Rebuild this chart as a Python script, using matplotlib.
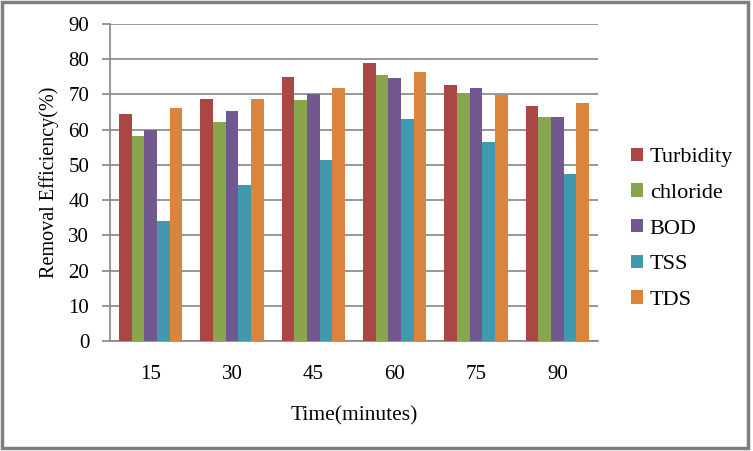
import numpy as np
import matplotlib.pyplot as plt
from matplotlib.patches import Rectangle

times = ['15', '30', '45', '60', '75', '90']
turbidity = [64.5, 68.8, 75.0, 79.0, 72.8, 66.8]
chloride = [58.3, 62.3, 68.4, 75.6, 70.5, 63.7]
bod = [59.9, 65.4, 70.2, 74.7, 71.9, 63.7]
tss = [34.2, 44.4, 51.5, 63.1, 56.6, 47.5]
tds = [66.2, 68.8, 71.9, 76.4, 69.9, 67.6]

series = [('Turbidity', turbidity, '#AA4643'),
          ('chloride', chloride, '#89A54E'),
          ('BOD', bod, '#71588F'),
          ('TSS', tss, '#4198AF'),
          ('TDS', tds, '#DB843D')]

plt.rcParams['font.family'] = ['Liberation Serif', 'DejaVu Serif']

fig = plt.figure(figsize=(7.53, 4.51), dpi=100)
ax = fig.add_axes([110 / 753, 1 - 341 / 451, (598 - 110) / 753, (341 - 24) / 451])

x = np.arange(len(times))
w = 0.155
for i, (name, vals, col) in enumerate(series):
    ax.bar(x + (i - 2) * w, vals, w, color=col, label=name, zorder=3)

ax.set_xlim(-0.5, len(times) - 0.5)
ax.set_ylim(0, 90)
ax.set_yticks(range(0, 91, 10))
ax.set_xticks(x)
ax.set_xticklabels(times)
ax.grid(axis='y', color='#868686', linewidth=1.2, zorder=0)
for s in ['top', 'right']:
    ax.spines[s].set_visible(False)
for s in ['left', 'bottom']:
    ax.spines[s].set_color('#868686')
    ax.spines[s].set_linewidth(1.2)
ax.tick_params(axis='y', length=6, color='#868686', width=1.2, labelsize=15, pad=9)
ax.tick_params(axis='x', length=0, labelsize=15, pad=17)

ax.set_xlabel('Time(minutes)', fontsize=15.5, labelpad=16)
ax.set_ylabel('Removal Efficiency(%)', fontsize=14.5, labelpad=7)

leg = ax.legend(loc='upper left', bbox_to_anchor=(622 / 753, 1 - 139 / 451),
                bbox_transform=fig.transFigure, frameon=False, fontsize=16,
                handlelength=0.55, handleheight=0.55, handletextpad=0.3,
                labelspacing=0.72, borderaxespad=0)

fig.patches.append(Rectangle((0.002, 0.006), 0.991, 0.99, transform=fig.transFigure,
                             fill=False, edgecolor='#7f7f7f', linewidth=2.5))

fig.savefig('out.png', dpi=100)
